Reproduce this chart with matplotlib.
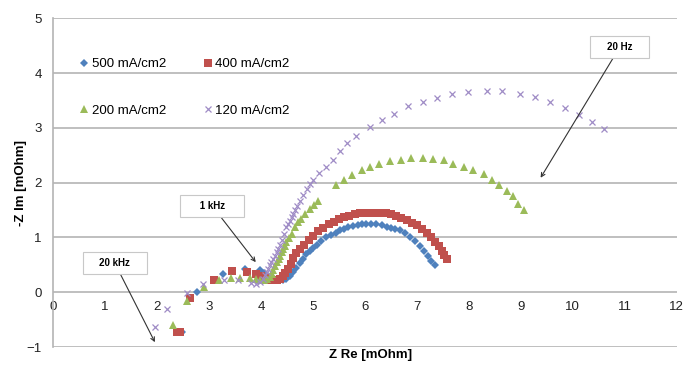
import matplotlib
matplotlib.use("Agg")
import matplotlib.pyplot as plt

plt.rcParams['font.family'] = ['Liberation Sans', 'DejaVu Sans']

# Nyquist data (Z Re, -Z Im in mOhm)
re_500 = [2.49, 2.77, 3.27, 3.69, 3.98, 4.05, 4.15, 4.25, 4.35, 4.42, 4.49, 4.56, 4.62, 4.68, 4.75,
          4.81, 4.87, 4.94, 5.00, 5.08, 5.16, 5.26, 5.35, 5.44, 5.52, 5.60, 5.68, 5.77, 5.86, 5.95,
          6.03, 6.12, 6.22, 6.32, 6.42, 6.50, 6.58, 6.67, 6.77, 6.87, 6.97, 7.06, 7.13, 7.21, 7.28, 7.35]
im_500 = [-0.72, 0.00, 0.33, 0.42, 0.41, 0.35, 0.28, 0.24, 0.22, 0.22, 0.25, 0.30, 0.37, 0.45, 0.53,
          0.61, 0.70, 0.76, 0.80, 0.86, 0.93, 1.00, 1.05, 1.09, 1.13, 1.16, 1.19, 1.21, 1.23, 1.24,
          1.24, 1.25, 1.24, 1.23, 1.20, 1.18, 1.15, 1.13, 1.08, 1.01, 0.94, 0.85, 0.76, 0.67, 0.58, 0.50]

re_400 = [2.38, 2.45, 2.63, 3.10, 3.45, 3.74, 3.90, 4.00, 4.08, 4.16, 4.24, 4.30, 4.36, 4.42, 4.47,
          4.52, 4.57, 4.62, 4.68, 4.75, 4.83, 4.92, 5.00, 5.10, 5.20, 5.30, 5.40, 5.50, 5.60, 5.70,
          5.80, 5.90, 6.00, 6.10, 6.20, 6.30, 6.40, 6.50, 6.60, 6.70, 6.80, 6.90, 7.00, 7.10, 7.20,
          7.28, 7.35, 7.42, 7.48, 7.53, 7.57]
im_400 = [-0.72, -0.72, -0.10, 0.23, 0.38, 0.37, 0.34, 0.30, 0.26, 0.23, 0.22, 0.23, 0.25, 0.30, 0.36,
          0.43, 0.52, 0.62, 0.71, 0.79, 0.87, 0.95, 1.03, 1.11, 1.18, 1.24, 1.29, 1.33, 1.37, 1.40,
          1.42, 1.44, 1.45, 1.45, 1.45, 1.45, 1.44, 1.42, 1.39, 1.36, 1.32, 1.27, 1.22, 1.15, 1.08,
          1.00, 0.92, 0.84, 0.76, 0.68, 0.61]

re_200 = [2.31, 2.57, 2.90, 3.19, 3.43, 3.60, 3.78, 3.90, 3.98, 4.05, 4.11, 4.17, 4.21, 4.24, 4.27,
          4.30, 4.34, 4.37, 4.40, 4.43, 4.46, 4.49, 4.54, 4.59, 4.65, 4.72, 4.78, 4.85, 4.94, 5.02,
          5.09, 5.44, 5.60, 5.76, 5.94, 6.10, 6.28, 6.48, 6.69, 6.88, 7.11, 7.31, 7.52, 7.70, 7.90,
          8.08, 8.29, 8.44, 8.58, 8.73, 8.84, 8.95, 9.06]
im_200 = [-0.60, -0.16, 0.09, 0.22, 0.27, 0.27, 0.26, 0.24, 0.22, 0.22, 0.24, 0.28, 0.34, 0.40, 0.48,
          0.55, 0.61, 0.67, 0.73, 0.79, 0.85, 0.91, 0.99, 1.07, 1.19, 1.28, 1.34, 1.43, 1.52, 1.60,
          1.67, 1.95, 2.05, 2.14, 2.23, 2.29, 2.34, 2.40, 2.42, 2.45, 2.45, 2.43, 2.42, 2.34, 2.29,
          2.23, 2.15, 2.05, 1.95, 1.84, 1.75, 1.62, 1.51]

re_120 = [1.96, 2.20, 2.58, 2.89, 3.28, 3.56, 3.80, 3.90, 3.98, 4.04, 4.08, 4.11, 4.14, 4.17, 4.20,
          4.24, 4.27, 4.30, 4.33, 4.37, 4.40, 4.45, 4.49, 4.53, 4.56, 4.59, 4.62, 4.65, 4.69, 4.75,
          4.81, 4.88, 4.94, 5.00, 5.12, 5.25, 5.39, 5.52, 5.66, 5.83, 6.10, 6.32, 6.56, 6.83, 7.12,
          7.39, 7.68, 7.99, 8.34, 8.63, 8.98, 9.28, 9.57, 9.84, 10.12, 10.37, 10.60]
im_120 = [-0.64, -0.31, -0.02, 0.15, 0.23, 0.22, 0.17, 0.16, 0.18, 0.24, 0.31, 0.37, 0.43, 0.49, 0.55,
          0.61, 0.67, 0.73, 0.79, 0.87, 0.95, 1.07, 1.19, 1.25, 1.31, 1.37, 1.43, 1.50, 1.57, 1.66,
          1.77, 1.88, 1.98, 2.05, 2.17, 2.29, 2.42, 2.58, 2.73, 2.85, 3.01, 3.14, 3.26, 3.39, 3.47,
          3.55, 3.62, 3.65, 3.67, 3.67, 3.62, 3.56, 3.47, 3.37, 3.23, 3.10, 2.98]

series_labels = ['500 mA/cm2', '400 mA/cm2', '200 mA/cm2', '120 mA/cm2']
x_ticks = list(range(0, 13))
y_ticks = list(range(-1, 6))

fig = plt.figure(figsize=(6.84, 3.65), dpi=100)
ax = fig.add_axes([0.0775, 0.049, 0.912, 0.901])

grid_col = '#B4B4B4'
for y in y_ticks:
    ax.axhline(y, color=grid_col, lw=1.2, zorder=0)

h1, = ax.plot(re_500, im_500, 'D', color='#4F81BD', ms=4, mew=0, label=series_labels[0])
h2, = ax.plot(re_400, im_400, 's', color='#C0504D', ms=5.5, mew=0, label=series_labels[1])
h3, = ax.plot(re_200, im_200, '^', color='#9BBB59', ms=5.5, mew=0, label=series_labels[2])
h4, = ax.plot(re_120, im_120, 'x', color='#9F8CC6', ms=5, mew=0.9, label=series_labels[3])

ax.set_xlim(0, 12)
ax.set_ylim(-1, 5)
ax.set_xticks(x_ticks)
ax.set_yticks(y_ticks)
ax.tick_params(length=0, labelsize=9.5, colors='#222222')
ax.tick_params(axis='y', pad=8)
ax.tick_params(axis='x', pad=6)

for s in ['top', 'right']:
    ax.spines[s].set_visible(False)
ax.spines['bottom'].set_position(('data', 0))
ax.spines['bottom'].set_visible(False)
ax.spines['left'].set_color(grid_col)
ax.spines['left'].set_linewidth(1.2)

ax.text(6.1, -1.15, 'Z Re [mOhm]', ha='center', va='center', fontsize=9.5, fontweight='bold')
ax.set_ylabel('-Z Im [mOhm]', fontsize=9.5, fontweight='bold', labelpad=0)

# column-wise fill: rows read 500/400 then 200/120
leg = ax.legend(handles=[h1, h3, h2, h4], ncol=2, frameon=False, fontsize=9.5,
                loc='upper left', bbox_to_anchor=(0.025, 0.915), handlelength=0.6,
                handletextpad=0.3, columnspacing=2.8, labelspacing=2.6)

box = dict(boxstyle='square,pad=0.6', fc='white', ec='#C8C8C8', lw=0.8)
arrow = dict(arrowstyle='->', color='#333333', lw=0.8, shrinkA=0, shrinkB=0)
ax.annotate('    20 kHz    ', xy=(1.96, -0.91), xytext=(1.19, 0.53), fontsize=7, fontweight='bold',
            ha='center', va='center', bbox=box, arrowprops=arrow)
ax.annotate('     1 kHz     ', xy=(3.90, 0.55), xytext=(3.06, 1.58), fontsize=7, fontweight='bold',
            ha='center', va='center', bbox=box, arrowprops=arrow)
ax.annotate('    20 Hz    ', xy=(9.38, 2.09), xytext=(10.9, 4.47), fontsize=7, fontweight='bold',
            ha='center', va='center', bbox=box, arrowprops=arrow)

fig.savefig('out.png', dpi=100)
